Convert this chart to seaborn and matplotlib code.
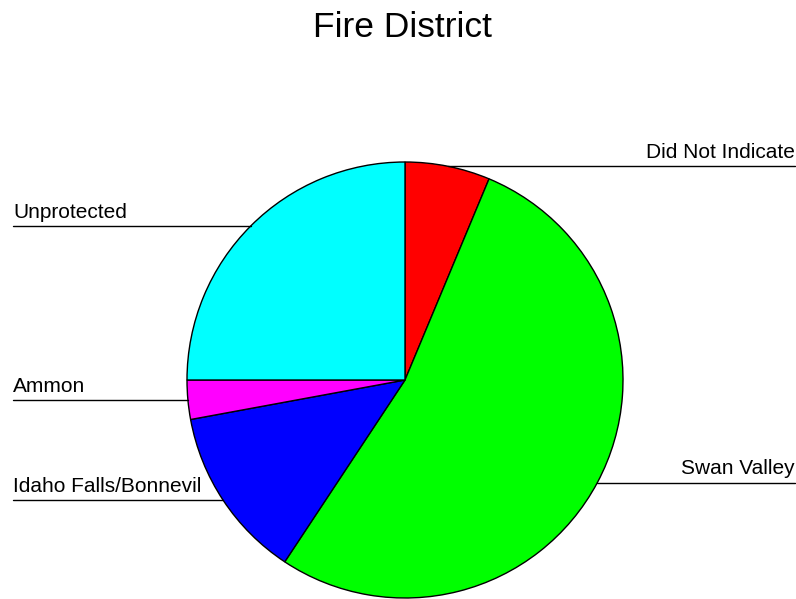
import numpy as np
import matplotlib
matplotlib.use("Agg")
import matplotlib.pyplot as plt
import matplotlib.transforms as mtransforms
import seaborn as sns

# slice data, clockwise from 12 o'clock
districts = ["Did Not Indicate", "Swan Valley", "Idaho Falls/Bonnevil", "Ammon", "Unprotected"]
shares = [6.3, 53.0, 12.8, 2.9, 25.0]
colors = ["#FF0000", "#00FF00", "#0000FF", "#FF00FF", "#00FFFF"]
label_side = ["right", "right", "left", "left", "left"]

sns.set_style("white")
plt.rcParams["font.family"] = ["Liberation Sans", "DejaVu Sans"]
plt.rcParams["text.color"] = "black"

W, H = 796, 599
fig = plt.figure(figsize=(W / 100, H / 100), dpi=100)

# pie centred at (405, 380) px from top-left, radius 218 px
cx, cy, r = 405, H - 380, 218
ax = fig.add_axes([(cx - r) / W, (cy - r) / H, 2 * r / W, 2 * r / H])
wedges, _ = ax.pie(shares, colors=colors, startangle=90, counterclock=False,
                   radius=1, wedgeprops=dict(edgecolor="black", linewidth=1.0))
ax.set_xlim(-1, 1)
ax.set_ylim(-1, 1)
ax.set_aspect("equal")
ax.axis("off")

fig.text(402.5 / W, 1 - 37 / H, "Fire District", ha="center", va="baseline",
         fontsize=25.5, color="black")

trans = mtransforms.blended_transform_factory(fig.transFigure, ax.transData)
to_fig = ax.transData + fig.transFigure.inverted()
left_x, right_x = 13 / W, 795 / W

for w, name, side in zip(wedges, districts, label_side):
    mid = np.deg2rad((w.theta1 + w.theta2) / 2)
    px, py = np.cos(mid), np.sin(mid)
    fx = to_fig.transform((px, py))[0]
    end = left_x if side == "left" else right_x
    ax.plot([fx, end], [py, py], color="black", linewidth=1.0,
            transform=trans, clip_on=False)
    ax.annotate(name, xy=(end, py), xycoords=trans, xytext=(0, 6),
                textcoords="offset points", va="baseline",
                ha="left" if side == "left" else "right", fontsize=15,
                color="black")

fig.savefig("out.png", dpi=100)
